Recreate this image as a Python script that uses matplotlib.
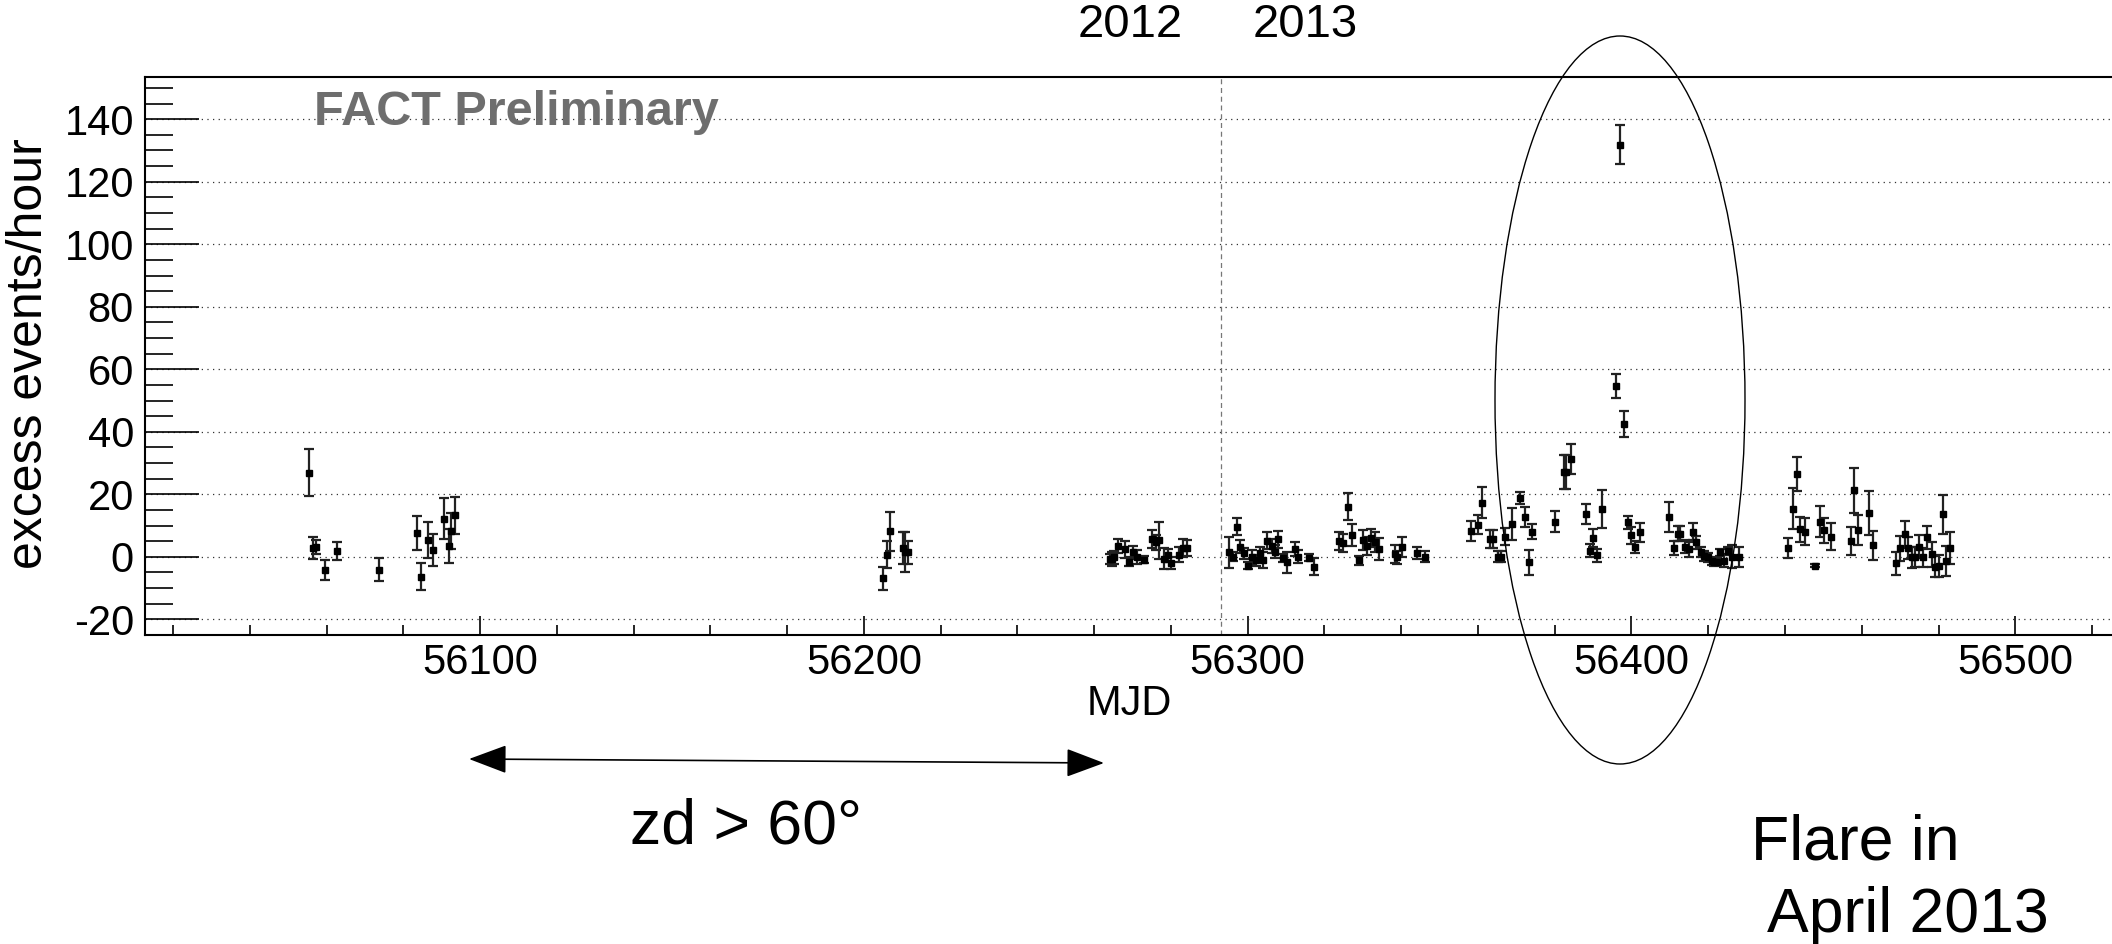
import matplotlib
matplotlib.use("Agg")
import matplotlib.pyplot as plt
from matplotlib.patches import Ellipse, FancyArrowPatch
from matplotlib.ticker import MultipleLocator, FormatStrFormatter

plt.rcParams['font.family'] = ['Liberation Sans', 'DejaVu Sans']
plt.rcParams['axes.unicode_minus'] = False

# nightly excess rates (Mrk 501 light curve), MJD / excess events per hour / error
mjd = [
    56055.5, 56056.6, 56057.3, 56059.6, 56062.6, 56073.6, 56083.6, 56084.7,
    56086.5, 56087.7, 56090.5, 56091.8, 56092.3, 56093.5,
    56205.1, 56206.1, 56206.8, 56210.3, 56210.8, 56211.6,
    56264.1, 56264.7, 56265.1, 56266.1, 56268.1, 56269.2, 56270.0, 56271.1,
    56273.1, 56275.2, 56276.2, 56276.9, 56278.1, 56279.3, 56280.0, 56282.2,
    56283.2, 56284.1,
    56295.1, 56296.1, 56297.3, 56298.1, 56299.1, 56300.2, 56301.1, 56302.2,
    56303.1, 56303.9, 56305.1, 56306.3, 56307.2, 56308.0, 56309.2, 56310.2,
    56312.3, 56313.2, 56316.1, 56317.3,
    56323.8, 56324.8, 56326.1, 56327.2, 56329.1, 56330.1, 56331.2, 56332.1,
    56333.1, 56334.2, 56338.5, 56339.0, 56340.1, 56344.2, 56346.1,
    56358.2, 56360.1, 56361.1, 56363.1, 56363.8, 56365.3, 56366.0, 56367.1,
    56369.0, 56371.0, 56372.3, 56373.2, 56374.2, 56380.1,
    56382.3, 56382.9, 56384.2, 56388.2, 56389.2, 56390.0, 56391.1, 56392.2,
    56395.9, 56397.0, 56398.1, 56399.2, 56399.9, 56401.0, 56402.1,
    56409.9, 56411.1, 56412.0, 56412.7, 56413.9, 56415.0, 56416.1, 56416.9,
    56418.0, 56419.0, 56419.9, 56420.9, 56421.5, 56422.2, 56423.1, 56424.0,
    56425.1, 56426.1, 56428.1,
    56440.9, 56442.0, 56443.1, 56443.9, 56445.1, 56447.9, 56449.1, 56450.2,
    56452.0, 56457.1, 56457.9, 56459.0, 56462.0, 56463.0,
    56468.9, 56470.0, 56471.2, 56472.0, 56473.0, 56474.0, 56474.9, 56475.9,
    56477.1, 56478.2, 56479.0, 56480.1, 56481.2, 56482.0, 56483.0,
]
excess = [
    26.9, 2.8, 3.2, -4.1, 1.8, -4.1, 7.7, -6.3,
    5.5, 2.2, 12.2, 3.5, 8.2, 13.3,
    -6.8, 0.7, 8.2, 2.7, 1.6, 1.4,
    -0.7, -0.6, -0.2, 3.5, 2.4, -1.5, 1.5, 0.0,
    -0.9, 5.7, 4.6, 5.3, -0.6, 0.5, -2.1, 0.7,
    2.8, 2.8,
    1.4, 0.0, 9.7, 3.3, 1.1, -2.8, 0.0, -1.1,
    1.1, -1.1, 5.1, 3.4, 1.7, 5.6, -0.4, -1.7,
    2.5, 0.0, -0.3, -3.1,
    5.1, 4.3, 16.0, 7.1, -1.1, 5.3, 3.5, 6.0,
    4.6, 2.5, 0.9, -0.2, 3.2, 1.1, 0.0,
    8.3, 10.3, 17.3, 5.6, 5.6, 0.0, 0.0, 6.4,
    10.5, 18.7, 12.6, -1.8, 8.1, 11.3,
    27.2, 27.2, 31.4, 13.6, 1.9, 6.0, 0.5, 15.4,
    54.6, 131.9, 42.4, 11.0, 6.9, 3.2, 7.8,
    12.8, 2.8, 7.4, 7.4, 3.2, 2.4, 8.0, 4.6,
    1.4, 0.3, -0.2, -1.3, -1.8, -1.5, 1.4, -1.3,
    1.9, 0.0, -0.2,
    2.8, 15.4, 26.4, 8.8, 8.1, -2.8, 11.3, 8.5,
    6.4, 5.1, 21.3, 8.5, 14.0, 3.7,
    -2.1, 2.8, 7.2, 2.8, -0.2, 0.0, 3.2, -0.2,
    6.2, 0.9, -3.2, -2.9, 13.6, -1.3, 2.8,
]
excess_err = [
    7.5, 3.4, 2.3, 3.2, 2.9, 3.6, 5.5, 4.3,
    5.8, 5.1, 6.6, 5.5, 5.7, 6.0,
    3.7, 4.4, 6.2, 5.1, 6.5, 3.6,
    1.5, 2.3, 2.0, 2.2, 2.7, 1.4, 2.1, 2.2,
    1.1, 2.9, 2.3, 5.9, 3.4, 2.1, 1.9, 2.3,
    2.8, 2.5,
    5.0, 1.4, 2.6, 2.2, 1.8, 1.2, 2.2, 1.7,
    2.0, 2.5, 2.7, 2.3, 2.0, 2.8, 1.3, 3.4,
    2.1, 2.1, 1.1, 2.6,
    2.8, 2.9, 4.3, 3.5, 1.4, 3.2, 2.9, 2.8,
    3.2, 3.6, 2.8, 2.2, 3.3, 1.9, 1.8,
    3.3, 3.0, 5.0, 2.9, 2.9, 1.8, 1.8, 2.7,
    5.0, 1.9, 3.2, 4.0, 2.4, 3.4,
    5.4, 5.4, 4.8, 3.2, 2.1, 3.0, 2.0, 6.1,
    3.8, 6.3, 4.1, 2.1, 2.8, 1.9, 2.9,
    4.9, 2.3, 2.4, 2.4, 2.1, 2.3, 2.7, 2.1,
    1.6, 1.6, 1.4, 1.2, 1.0, 1.0, 1.1, 2.0,
    1.1, 3.7, 3.2,
    3.1, 6.5, 5.4, 4.0, 4.3, 0.5, 4.9, 4.0,
    4.3, 4.4, 7.2, 4.8, 7.0, 4.6,
    3.6, 4.0, 4.3, 3.5, 3.4, 3.3, 3.7, 2.9,
    3.7, 4.0, 3.4, 3.5, 6.3, 4.8, 5.2,
]

new_year_mjd = 56293  # 2013-01-01
year_labels = ['2012', '2013']

W, H = 2112, 944
fig = plt.figure(figsize=(W / 100, H / 100), dpi=100)

# frame runs past the right edge of the canvas
ax = fig.add_axes([145 / W, 1 - 635 / H, (2140 - 145) / W, (635 - 77) / H])

ax.errorbar(mjd, excess, yerr=excess_err, fmt='s', ms=4, color='black',
            ecolor='#222222', elinewidth=1.6, capsize=3.5, capthick=1.6,
            zorder=3)

ax.set_xlim(56012.7, 56532.5)
ax.set_ylim(-25, 153.5)

ax.xaxis.set_major_locator(MultipleLocator(100))
ax.xaxis.set_minor_locator(MultipleLocator(20))
ax.xaxis.set_major_formatter(FormatStrFormatter('%d'))
ax.yaxis.set_major_locator(MultipleLocator(20))
ax.yaxis.set_minor_locator(MultipleLocator(5))

ax.tick_params(which='both', direction='in', top=False, right=False,
               width=1.2, labelsize=30)
ax.tick_params(axis='y', which='major', length=39, pad=8)
ax.tick_params(axis='y', which='minor', length=20)
ax.tick_params(axis='x', which='major', length=14, pad=6)
ax.tick_params(axis='x', which='minor', length=7)

ax.yaxis.grid(True, which='major', linestyle=(0, (1, 3.5)), color='#333333',
              linewidth=0.9)
ax.set_axisbelow(True)
for s in ax.spines.values():
    s.set_linewidth(1.5)

ax.axvline(new_year_mjd, color='#777777', linestyle=(0, (4, 3)), linewidth=0.9)

# labels placed in figure pixels
fig.text(29 / W, 1 - 353.5 / H, 'excess events/hour', rotation=90,
         ha='center', va='center', fontsize=36)
fig.text(1129 / W, 1 - 715 / H, 'MJD', ha='center', va='baseline', fontsize=30)
fig.text(314 / W, 1 - 125 / H, 'FACT Preliminary', ha='left', va='baseline',
         fontsize=35, fontweight='bold', color='#6e6e6e')
fig.text(1130 / W, 1 - 37 / H, year_labels[0], ha='center', va='baseline',
         fontsize=34)
fig.text(1305 / W, 1 - 37 / H, year_labels[1], ha='center', va='baseline',
         fontsize=34)

# flare marker and zenith-distance range
fig.add_artist(Ellipse((1620 / W, 1 - 400 / H), 250 / W, 728 / H,
                       transform=fig.transFigure, fill=False,
                       edgecolor='black', linewidth=1.0))
fig.add_artist(FancyArrowPatch((469 / W, 1 - 759 / H), (1104 / W, 1 - 763 / H),
                               transform=fig.transFigure,
                               arrowstyle='<|-|>,head_length=24,head_width=9',
                               mutation_scale=1, shrinkA=0, shrinkB=0,
                               linewidth=1.2, color='black'))

fig.text(746 / W, 1 - 843 / H, 'zd > 60°', ha='center', va='baseline', fontsize=45)
fig.text(1751 / W, 1 - 860 / H, 'Flare in', ha='left', va='baseline', fontsize=45)
fig.text(1767 / W, 1 - 932 / H, 'April 2013', ha='left', va='baseline', fontsize=45)

fig.savefig('out.png', dpi=100)
